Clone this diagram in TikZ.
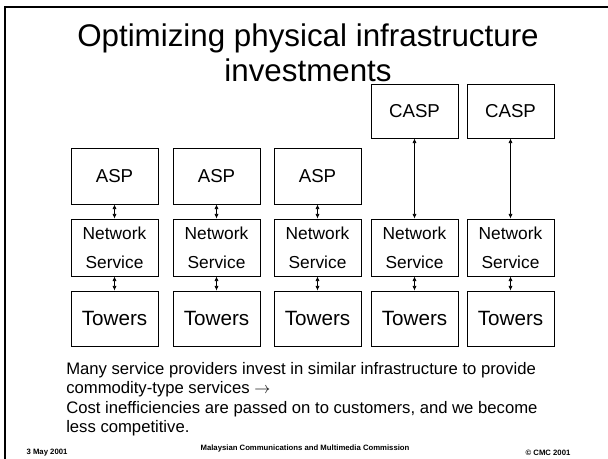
\documentclass[tikz,border=0pt]{standalone}
\usepackage{fontspec}
\setmainfont{Liberation Sans}
\usetikzlibrary{arrows.meta}
\usetikzlibrary{positioning}

\begin{document}
\begin{tikzpicture}[x=0.75pt,y=0.75pt,yscale=-1,
  blk/.style={draw,line width=0.6pt,minimum width=65.25pt,inner sep=0pt,font=\fontsize{14}{16}\selectfont},
  lnk/.style={{Latex[length=3.5pt,width=3pt]}-{Latex[length=3.5pt,width=3pt]},line width=0.5pt},
  foot/.style={inner sep=0pt,font=\fontsize{5.8}{6}\selectfont\bfseries}]
  \useasboundingbox (0,0) rectangle (608,459);

  %Slide frame
  \draw [line width=2pt] (5,459) -- (5,7) -- (608,7) ;

  % Title
  \node (title) [align=center,inner sep=0pt,font=\fontsize{23.5}{26}\selectfont] at (308,53) {Optimizing physical infrastructure\\investments};

  %Network and towers, one column each
  \foreach \i/\x in {1/114.5,2/216.5,3/317.5,4/414.5,5/510.5} {
    \node (net\i) [blk,minimum height=42.75pt,align=center,font=\fontsize{13}{21.75}\selectfont] at (\x,247.5) {Network\\Service};
    \node (tow\i) [blk,minimum height=41.25pt,font=\fontsize{15.5}{17}\selectfont] at (\x,318.5) {Towers};
    \draw [lnk] (net\i) -- (tow\i) ;
  }
  %ASP boxes
  \foreach \i/\x in {1/114.5,2/216.5,3/317.5} {
    \node (asp\i) [blk,minimum height=42pt] at (\x,176) {ASP};
    \draw [lnk] (asp\i) -- (net\i) ;
  }
  %CASP boxes
  \foreach \i/\x in {4/414.5,5/510.5} {
    \node (casp\i) [blk,minimum height=40.5pt] at (\x,111) {CASP};
    \draw [lnk] (casp\i) -- (net\i) ;
  }

  % Text Node
  \node (note) [anchor=north west,inner sep=0pt,align=left,font=\fontsize{12.5}{14.6}\selectfont] at (66,362) {Many service providers invest in similar infrastructure to provide\\commodity-type services $\rightarrow$\\Cost inefficiencies are passed on to customers, and we become\\less competitive.};
  % Footer
  \node (date) [foot] at (47,453) {3 May 2001};
  \node (mcmc) [foot] at (305,449) {Malaysian Communications and Multimedia Commission};
  \node (copy) [foot] at (548,453) {© CMC 2001};
\end{tikzpicture}
\end{document}
